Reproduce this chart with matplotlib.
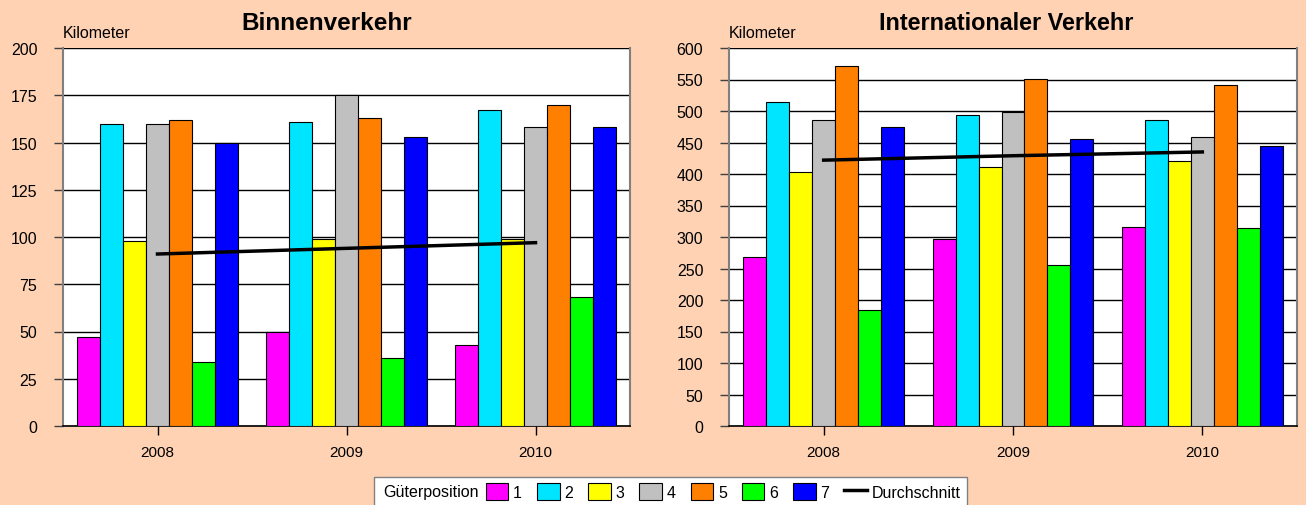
import numpy as np
import matplotlib.pyplot as plt
from matplotlib.patches import Patch, Rectangle
from matplotlib.lines import Line2D

plt.rcParams['font.family'] = ['Liberation Sans', 'DejaVu Sans']

jahre = ['2008', '2009', '2010']
positionen = ['1', '2', '3', '4', '5', '6', '7']
farben = ['#FF00FF', '#00E5FF', '#FFFF00', '#C0C0C0', '#FF8000', '#00FF00', '#0000FF']

# Binnenverkehr, Werte je Gueterposition (2008, 2009, 2010)
binnen = np.array([
    [47, 50, 43],
    [160, 161, 167],
    [98, 99, 99],
    [160, 175, 158],
    [162, 163, 170],
    [34, 36, 68],
    [150, 153, 158],
])
binnen_schnitt = [91, 94, 97]

# Internationaler Verkehr
inter = np.array([
    [268, 297, 316],
    [514, 494, 485],
    [403, 411, 420],
    [486, 499, 459],
    [572, 551, 541],
    [184, 255, 314],
    [474, 456, 445],
])
inter_schnitt = [422, 429, 435]

W, H = 1306, 506
bg = '#FED2B3'
fig = plt.figure(figsize=(W/100, H/100), dpi=100, facecolor=bg)
ax1 = fig.add_axes([63/W, 1-427/H, (630-63)/W, 378/H])
ax2 = fig.add_axes([729/W, 1-427/H, (1297-729)/W, 378/H])


def zeichne(ax, daten, schnitt, ymax, step, titel, tx, tsize):
    x = np.arange(len(jahre))
    w = 0.85 / len(positionen)
    for i in range(len(positionen)):
        ax.bar(x + (i - 3) * w, daten[i], width=w, color=farben[i],
               edgecolor='black', linewidth=0.8, zorder=3)
    ax.plot(x, schnitt, color='black', linewidth=2.5, zorder=4)
    ax.set_xlim(-0.5, 2.5)
    ax.set_ylim(0, ymax)
    ax.set_yticks(np.arange(0, ymax + 1, step))
    ax.set_xticks(x)
    ax.set_xticklabels(jahre)
    ax.tick_params(axis='x', length=6.5, width=1, direction='out', pad=7, labelsize=11)
    ax.tick_params(axis='y', length=6.5, width=1, direction='out', labelsize=11.5,
                   pad=12, color='#404040')
    ax.yaxis.grid(True, color='black', linewidth=1, zorder=0)
    ax.set_axisbelow(True)
    for s in ax.spines.values():
        s.set_color('#808080')
        s.set_linewidth(1.5)
    ax.spines['bottom'].set_color('black')
    ax.spines['bottom'].set_linewidth(1.2)
    ax.spines['top'].set_visible(False)
    pos = ax.get_position()
    fig.text(pos.x0, 1-33/H, 'Kilometer', fontsize=11.5, ha='left', va='center')
    fig.text(tx/W, 1-23/H, titel, fontsize=tsize, fontweight='bold',
             ha='center', va='center')


zeichne(ax1, binnen, binnen_schnitt, 200, 25, 'Binnenverkehr', 327, 17.5)
zeichne(ax2, inter, inter_schnitt, 600, 50, 'Internationaler Verkehr', 1006, 16.8)

# Legende
handles = []
labels = []
for f, p in zip(farben, positionen):
    handles.append(Patch(facecolor=f, edgecolor='black', linewidth=0.8))
    labels.append(p)
handles.append(Line2D([], [], color='black', linewidth=2.5))
labels.append('Durchschnitt')

ly = 1 - 492.5/H
leg = fig.legend(handles, labels, loc='center left', bbox_to_anchor=(486/W, ly),
                 ncol=len(labels), frameon=False, fontsize=11.5,
                 handlelength=1.4, handleheight=1.2, handletextpad=0.3,
                 columnspacing=0.95, borderpad=0, borderaxespad=0)
fig.text(383/W, ly, 'Güterposition', fontsize=11.5, ha='left', va='center')

fig.canvas.draw()
bb = leg.get_window_extent()
rechts = (bb.x1 + 6) / W
fig.patches.append(Rectangle((374/W, -0.02), rechts - 374/W, 1 - 478/H + 0.02,
                             transform=fig.transFigure, facecolor='white',
                             edgecolor='#808080', linewidth=1, zorder=1))

fig.savefig('out.png', dpi=100, facecolor=bg)
